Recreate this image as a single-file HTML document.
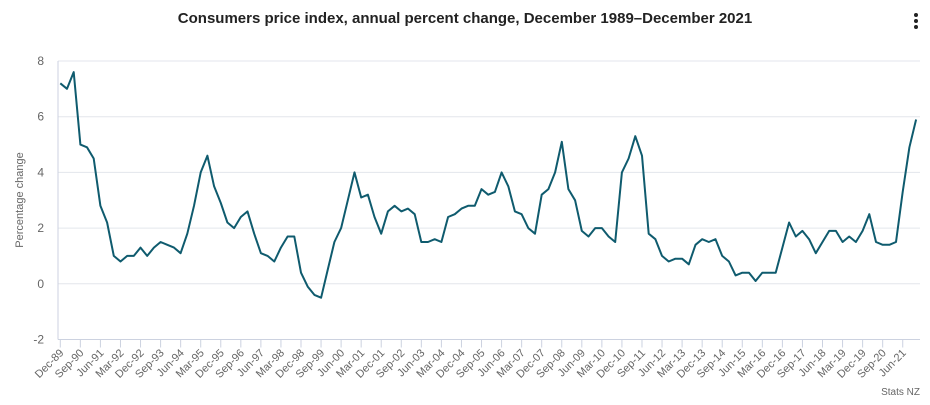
<!DOCTYPE html>
<html><head><meta charset="utf-8"><style>
body{margin:0;background:#fff;font-family:"Liberation Sans",sans-serif}
svg text{font-family:"Liberation Sans",sans-serif}
</style></head><body>
<svg id="c" width="930" height="400">
<text x="465" y="23" text-anchor="middle" font-size="15" font-weight="bold" fill="#222">Consumers price index, annual percent change, December 1989–December 2021</text>
<g><circle cx="916" cy="15" r="2" fill="#222"/><circle cx="916" cy="21" r="2" fill="#222"/><circle cx="916" cy="27" r="2" fill="#222"/></g>
<text transform="translate(23,200) rotate(-90)" text-anchor="middle" font-size="11" fill="#666">Percentage change</text>
<text x="920" y="395" text-anchor="end" font-size="10" fill="#666">Stats NZ</text>
</svg>
<script>
const yTicks=[-2,0,2,4,6,8];
const values=[7.2,7.0,7.6,5.0,4.9,4.5,2.8,2.2,1.0,0.8,1.0,1.0,1.3,1.0,1.3,1.5,1.4,1.3,1.1,1.8,2.8,4.0,4.6,3.5,2.9,2.2,2.0,2.4,2.6,1.8,1.1,1.0,0.8,1.3,1.7,1.7,0.4,-0.1,-0.4,-0.5,0.5,1.5,2.0,3.0,4.0,3.1,3.2,2.4,1.8,2.6,2.8,2.6,2.7,2.5,1.5,1.5,1.6,1.5,2.4,2.5,2.7,2.8,2.8,3.4,3.2,3.3,4.0,3.5,2.6,2.5,2.0,1.8,3.2,3.4,4.0,5.1,3.4,3.0,1.9,1.7,2.0,2.0,1.7,1.5,4.0,4.5,5.3,4.6,1.8,1.6,1.0,0.8,0.9,0.9,0.7,1.4,1.6,1.5,1.6,1.0,0.8,0.3,0.4,0.4,0.1,0.4,0.4,0.4,1.3,2.2,1.7,1.9,1.6,1.1,1.5,1.9,1.9,1.5,1.7,1.5,1.9,2.5,1.5,1.4,1.4,1.5,3.3,4.9,5.9];
const startYear=1989;
const months=["Mar","Jun","Sep","Dec"];
const NS="http://www.w3.org/2000/svg";
const svg=document.getElementById('c');
const L=58,R=920,T=61,B=339.5;
const x=i=>60.3+i*6.686;
const y=v=>B-(v+2)/10*(B-T);
function el(t,a){const e=document.createElementNS(NS,t);for(const k in a)e.setAttribute(k,a[k]);svg.appendChild(e);return e;}
yTicks.forEach(v=>{
 const g=el('line',{x1:L,x2:R,y1:y(v),y2:y(v),stroke:v===-2?'#ccd2e0':'#e3e6ec','stroke-width':1});
 
 
 const t=el('text',{x:44,y:y(v)+4,'text-anchor':'end','font-size':12,fill:'#666'});
 t.textContent=v;
 
 
});
const ax=el('line',{x1:L,x2:L,y1:T,y2:B,stroke:'#ccd2e0'});


for(let i=0;i<values.length;i+=3){
 const q=(3+i)%4, yr=startYear+Math.floor((3+i)/4);
 const tk=el('line',{x1:x(i),x2:x(i),y1:B,y2:B+8,stroke:'#ccd2e0'});
 
 
 const t=el('text',{transform:`translate(${x(i)+4},${B+14}) rotate(-45)`,'text-anchor':'end','font-size':11,fill:'#666'});
 t.textContent=months[q]+'-'+String(yr%100).padStart(2,'0');
 
 
}
const p=el('path',{d:values.map((v,i)=>(i?'L':'M')+x(i).toFixed(1)+','+y(v).toFixed(1)).join(''),fill:'none',stroke:'#0f5b6e','stroke-width':2,'stroke-linejoin':'round'});


</script>
</body></html>
